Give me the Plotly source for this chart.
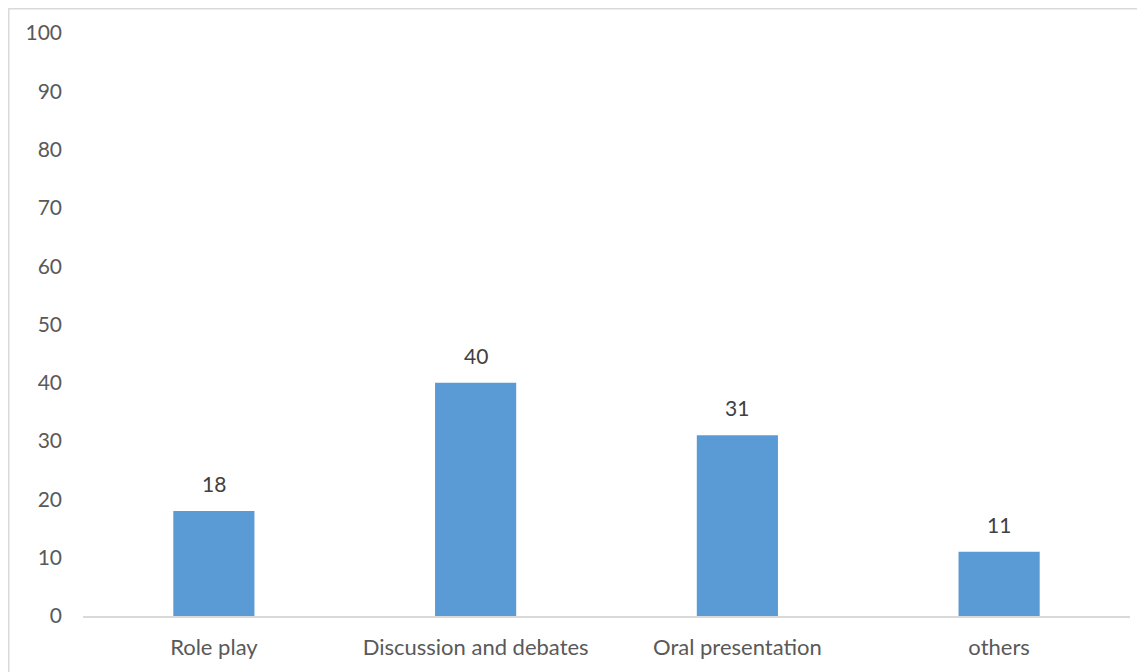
import plotly.graph_objects as go

categories = ["Role play", "Discussion and debates", "Oral presentation", "others"]
values = [18, 40, 31, 11]
y_ticks = list(range(0, 101, 10))

W, H = 1145, 672
ml, mr, mt, mb = 75, 23, 25, 64
pw = W - ml - mr
ph = H - mt - mb
FONT = "Lato"

fig = go.Figure(go.Bar(
    x=categories, y=values, width=0.31,
    marker=dict(color="#5B9BD5", line=dict(width=0)),
    hoverinfo="skip",
))

for c, v in zip(categories, values):
    fig.add_annotation(x=c, y=v, text=str(v), showarrow=False,
                       yanchor="bottom", yshift=13,
                       font=dict(color="#404040", size=21, family=FONT))

fig.update_layout(
    width=W, height=H,
    margin=dict(l=ml, r=mr, t=mt, b=mb),
    paper_bgcolor="white", plot_bgcolor="white",
    font=dict(family=FONT, size=21, color="#595959"),
    showlegend=False,
    xaxis=dict(showgrid=False, showline=True, linecolor="#D9D9D9", linewidth=2,
               ticks="", ticklabelstandoff=11, zeroline=False,
               tickfont=dict(size=22)),
    yaxis=dict(range=[0, 100], tickvals=y_ticks, showgrid=False, showline=False,
               zeroline=False, ticks="", ticklabelstandoff=20),
    shapes=[dict(type="rect", xref="paper", yref="paper",
                 x0=(0.5 - ml) / pw, x1=(W + 5 - ml) / pw,
                 y0=-(mb + 5) / ph, y1=1 + (mt - 0.5) / ph,
                 line=dict(color="#D9D9D9", width=2), layer="below")],
)

fig.write_html("out.html")
